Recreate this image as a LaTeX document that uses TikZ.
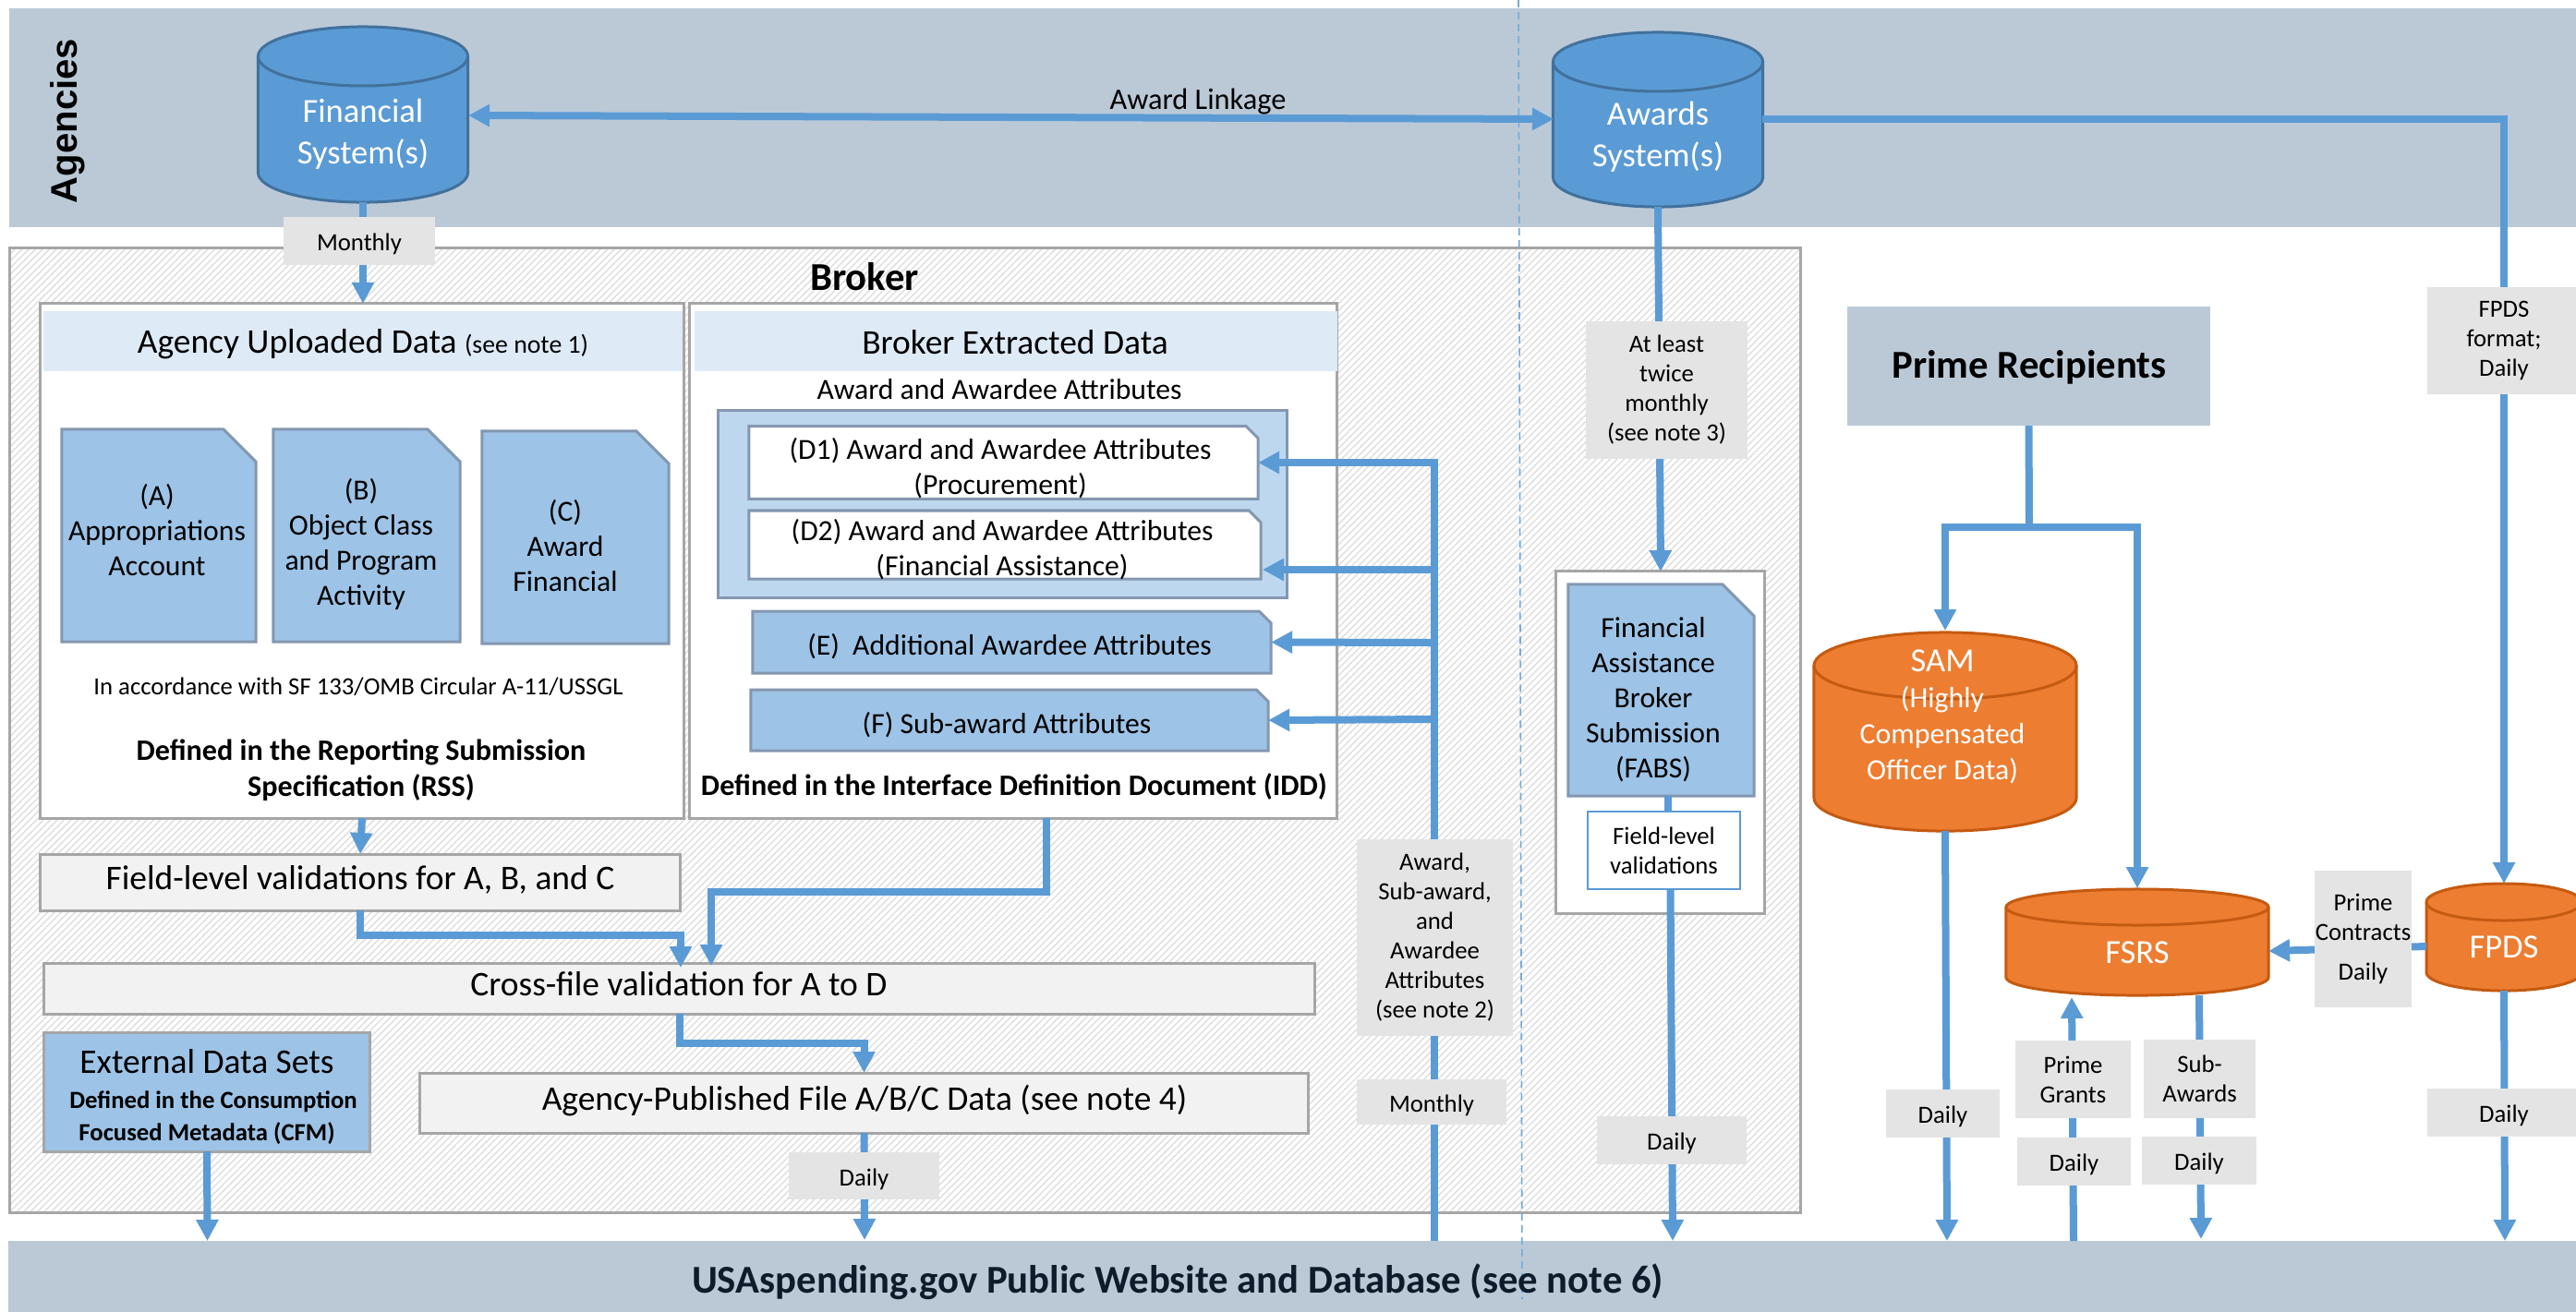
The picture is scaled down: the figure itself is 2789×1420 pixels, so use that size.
\documentclass[tikz,border=0pt]{standalone}
\usepackage{fontspec}
\setmainfont{Carlito}
\newfontfamily\agencyfont{Liberation Sans}
\usetikzlibrary{arrows.meta,patterns.meta}

\definecolor{bandgrey}{HTML}{BBC9D7}
\definecolor{flowblue}{HTML}{5B9BD5}
\definecolor{cylblue}{HTML}{5B9BD5}
\definecolor{cylblueedge}{HTML}{41719C}
\definecolor{cylorange}{HTML}{ED7D31}
\definecolor{cylorangeedge}{HTML}{C55A11}
\definecolor{docblue}{HTML}{9DC3E6}
\definecolor{docedge}{HTML}{8497B0}
\definecolor{headblue}{HTML}{DEEAF6}
\definecolor{groupblue}{HTML}{BDD7EE}
\definecolor{edgegrey}{HTML}{A6A6A6}
\definecolor{tagfill}{HTML}{E4E4E4}
\definecolor{valfill}{HTML}{F2F2F2}
\definecolor{titlenavy}{HTML}{0D1B2A}

\tikzset{
  plainbox/.style={rectangle,inner sep=0pt,outer sep=0pt,align=center},
  band/.style={plainbox,fill=bandgrey},
  whitebox/.style={plainbox,fill=white,draw=edgegrey,line width=0.03cm},
  headbox/.style={plainbox,fill=headblue},
  valbox/.style={plainbox,fill=valfill,draw=edgegrey,line width=0.03cm,font=\fontsize{10.65}{12.5}\selectfont},
  tagbox/.style={plainbox,fill=tagfill,font=\fontsize{7.6}{9.1}\selectfont,execute at begin node={\rule{0pt}{7.2pt}}},
  docpaper/.style={draw=docedge,line width=0.03cm,fill=docblue},
  slippaper/.style={draw=docedge,line width=0.03cm,fill=white},
  bluecyl/.style={draw=cylblueedge,line width=0.03cm,fill=cylblue},
  orangecyl/.style={draw=cylorangeedge,line width=0.03cm,fill=cylorange},
  txt/.style={inner sep=0pt,outer sep=0pt,align=center,font=\fontsize{9}{10.8}\selectfont},
  headtxt/.style={txt,font=\fontsize{10.65}{12.5}\selectfont},
  cyltxt/.style={txt,text=white,font=\fontsize{10.4}{12.8}\selectfont},
  boldtxt/.style={txt,font=\fontsize{9.15}{11.2}\selectfont\bfseries},
  titletxt/.style={txt,font=\fontsize{12.15}{14}\selectfont\bfseries},
  flowline/.style={draw=flowblue,line width=0.08cm},
  flow/.style={flowline,-{Triangle[length=0.23cm,width=0.23cm]}},
  flowboth/.style={flowline,{Triangle[length=0.23cm,width=0.23cm]}-{Triangle[length=0.23cm,width=0.23cm]}},
}

% cylinder over the named node #1: x radius #2 cm, y radius #3 cm, style #4
\newcommand{\dbdraw}[4]{
  \draw[#4] ([yshift=-#3cm]#1.north west) arc[start angle=180,end angle=0,x radius=#2cm,y radius=#3cm]
    -- ([yshift=#3cm]#1.south east) arc[start angle=0,end angle=-180,x radius=#2cm,y radius=#3cm] -- cycle;
  \draw[#4,fill=none] ([yshift=-#3cm]#1.north west) arc[start angle=180,end angle=360,x radius=#2cm,y radius=#3cm];
}
% sheet with a cut corner over the named node #1: cut #2 cm, style #3
\newcommand{\docdraw}[3]{
  \draw[#3] (#1.south west) -- (#1.north west) -- ([xshift=-#2cm]#1.north east)
    -- ([yshift=-#2cm]#1.north east) -- (#1.south east) -- cycle;
}

\begin{document}
\begin{tikzpicture}[x=0.01cm,y=-0.01cm]
\clip (0,0) rectangle (2789,1420);
\path[fill=white] (0,0) rectangle (2789,1420);

% bands and the broker area
\node[band,minimum width=27.78cm,minimum height=2.37cm] (agencyband) at (1400,127.5) {};
\node[band,minimum width=27.80cm,minimum height=0.88cm] (usaband) at (1400,1388) {};
\node[plainbox,draw=edgegrey,line width=0.03cm,minimum width=19.38cm,minimum height=10.44cm,
  pattern={Lines[angle=45,distance=1.5pt,line width=0.4pt]},pattern color=black!13] (brokerarea) at (980,791) {};
\draw[flowblue!85,line width=0.016cm,dash pattern=on 0.08cm off 0.05cm] (1644,0) -- (1648,1407);
\node[txt,rotate=90,font=\fontsize{11.4}{13}\selectfont\agencyfont\bfseries] (agencytxt) at (73,131) {Agencies};
\node[titletxt] (brokertxt) at (936,300) {Broker};
\node[titletxt,text=titlenavy] (usatxt) at (1275,1388) {USAspending.gov Public Website and Database (see note 6)};

% databases
\node[plainbox,minimum width=2.27cm,minimum height=1.90cm] (finsys) at (393,124) {};
\dbdraw{finsys}{1.135}{0.32}{bluecyl}
\node[cyltxt] (finsystxt) at (393,145) {Financial\\System(s)};
\node[plainbox,minimum width=2.27cm,minimum height=1.89cm] (awdsys) at (1795,129.5) {};
\dbdraw{awdsys}{1.135}{0.32}{bluecyl}
\node[cyltxt] (awdsystxt) at (1795,148) {Awards\\System(s)};
\node[plainbox,minimum width=2.84cm,minimum height=2.15cm] (sam) at (2106,792.5) {};
\dbdraw{sam}{1.42}{0.36}{orangecyl}
\node[cyltxt,font=\fontsize{9.05}{11.1}\selectfont] (samtxt) at (2103,776) {{\fontsize{10.4}{12}\selectfont SAM}\\(Highly\\Compensated\\Officer Data)};
\node[plainbox,minimum width=2.84cm,minimum height=1.15cm] (fsrs) at (2314,1020.5) {};
\dbdraw{fsrs}{1.42}{0.195}{orangecyl}
\node[cyltxt] (fsrstxt) at (2314,1032) {FSRS};
\node[plainbox,minimum width=1.68cm,minimum height=1.16cm] (fpds) at (2711,1015) {};
\dbdraw{fpds}{0.84}{0.20}{orangecyl}
\node[cyltxt] (fpdstxt) at (2711,1026) {FPDS};

% agency uploaded data
\node[whitebox,minimum width=6.96cm,minimum height=5.57cm] (agencybox) at (392,607.5) {};
\node[headbox,minimum width=6.92cm,minimum height=0.65cm] (agencyhead) at (393,369.5) {};
\node[headtxt] (agencyheadtxt) at (393,373) {Agency Uploaded Data {\fontsize{7.9}{9}\selectfont(see note 1)}};
\node[plainbox,minimum width=2.10cm,minimum height=2.30cm] (filea) at (172,580) {};
\docdraw{filea}{0.35}{docpaper}
\node[txt] (fileatxt) at (170,574) {(A)\\Appropriations\\Account};
\node[plainbox,minimum width=2.02cm,minimum height=2.30cm] (fileb) at (397,580) {};
\docdraw{fileb}{0.35}{docpaper}
\node[txt] (filebtxt) at (391,589) {(B)\\Object Class\\and Program\\Activity};
\node[plainbox,minimum width=2.02cm,minimum height=2.30cm] (filec) at (623,582) {};
\docdraw{filec}{0.35}{docpaper}
\node[txt] (filectxt) at (612,591) {(C)\\Award\\Financial};
\node[txt,font=\fontsize{7.6}{9}\selectfont] (sftxt) at (388,744) {In accordance with SF 133/OMB Circular A-11/USSGL};
\node[boldtxt] (rsstxt) at (391,834) {Defined in the Reporting Submission\\Specification (RSS)};

% broker extracted data
\node[whitebox,minimum width=7.00cm,minimum height=5.57cm] (brokerbox) at (1097,607.5) {};
\node[headbox,minimum width=6.96cm,minimum height=0.65cm] (brokerhead) at (1100,369.5) {};
\node[headtxt] (brokerheadtxt) at (1099,371) {Broker Extracted Data};
\node[txt] (attrtxt) at (1082,422) {Award and Awardee Attributes};
\node[plainbox,fill=groupblue,draw=docedge,line width=0.03cm,minimum width=6.15cm,minimum height=2.02cm] (dgroup) at (1085.5,546) {};
\node[plainbox,minimum width=5.51cm,minimum height=0.785cm] (dfileone) at (1086.5,501) {};
\docdraw{dfileone}{0.13}{slippaper}
\node[txt] (dfileonetxt) at (1083,507) {(D1) Award and Awardee Attributes\\(Procurement)};
\node[plainbox,minimum width=5.54cm,minimum height=0.74cm] (dfiletwo) at (1088,590) {};
\docdraw{dfiletwo}{0.13}{slippaper}
\node[txt] (dfiletwotxt) at (1085,595) {(D2) Award and Awardee Attributes\\(Financial Assistance)};
\node[plainbox,minimum width=5.61cm,minimum height=0.67cm] (efile) at (1095.5,695.5) {};
\docdraw{efile}{0.13}{docpaper}
\node[txt] (efiletxt) at (1093,700) {(E)\ \ Additional Awardee Attributes};
\node[plainbox,minimum width=5.60cm,minimum height=0.66cm] (ffile) at (1093,780) {};
\docdraw{ffile}{0.13}{docpaper}
\node[txt] (ffiletxt) at (1090,785) {(F) Sub-award Attributes};
\node[boldtxt] (iddtxt) at (1098,852) {Defined in the Interface Definition Document (IDD)};

% validations and published data
\node[valbox,minimum width=6.92cm,minimum height=0.61cm] (fieldval) at (390,955.5) {};
\node[headtxt] (fieldvaltxt) at (390,953) {Field-level validations for A, B, and C};
\node[valbox,minimum width=13.75cm,minimum height=0.55cm] (crossval) at (735.5,1070.5) {};
\node[headtxt] (crossvaltxt) at (735,1066) {Cross-file validation for A to D};
\node[valbox,minimum width=9.61cm,minimum height=0.65cm] (published) at (935.5,1194.5) {};
\node[headtxt] (publishedtxt) at (936,1191.5) {Agency-Published File A/B/C Data (see note 4)};
\node[plainbox,fill=docblue,draw=edgegrey,line width=0.03cm,minimum width=3.52cm,minimum height=1.28cm] (external) at (224,1183) {};
\node[headtxt,font=\fontsize{10.65}{11}\selectfont] (externaltxt) at (224,1188) {External Data Sets\\{\fontsize{7.6}{9.1}\selectfont\bfseries\hspace*{4pt}Defined in the Consumption}\\[-1pt]{\fontsize{7.6}{9.1}\selectfont\bfseries Focused Metadata (CFM)}};

% financial assistance submission
\node[whitebox,minimum width=2.25cm,minimum height=3.70cm] (fabsbox) at (1797.5,804) {};
\node[plainbox,minimum width=2.01cm,minimum height=2.29cm] (fabsfile) at (1798.5,747.5) {};
\docdraw{fabsfile}{0.34}{docpaper}
\node[txt] (fabsfiletxt) at (1790,758) {Financial\\Assistance\\Broker\\Submission\\(FABS)};
\node[plainbox,fill=white,draw=flowblue,line width=0.02cm,minimum width=1.65cm,minimum height=0.84cm,font=\fontsize{7.6}{9.1}\selectfont] (fabsval) at (1801.5,921) {Field-level\\validations};

% prime recipients
\node[band,minimum width=3.93cm,minimum height=1.29cm] (primerec) at (2196.5,396.5) {};
\node[titletxt] (primerectxt) at (2197,398) {Prime Recipients};

% connector ends that do not sit on an anchor
\coordinate (finright) at (507,125);
\coordinate (awdleft) at (1682,129);
\coordinate (awdright) at (1908,129);
\coordinate (fpdsturn) at (2711,129);
\coordinate (fabstop) at (1798,619);
\coordinate (fabslink) at (1806,879);
\coordinate (fabslinkup) at (1806,862);
\coordinate (valout) at (1808.5,963);
\coordinate (valtip) at (1811,1344);
\coordinate (fieldturn) at (737,1013);
\coordinate (crossinA) at (737,1048);
\coordinate (brokerout) at (1133,886);
\coordinate (brokerturn) at (1133,966);
\coordinate (crossinB) at (770,1046);
\coordinate (crossout) at (736,1098);
\coordinate (crossturn) at (736,1130);
\coordinate (externaltip) at (224.5,1344);
\coordinate (publishedtip) at (936,1343);
\coordinate (trunktop) at (1553,501);
\coordinate (trunkbase) at (1553,1344);
\coordinate (twoout) at (1553,617);
\coordinate (twotip) at (1367,617);
\coordinate (eout) at (1553,696);
\coordinate (fout) at (1553,779);
\coordinate (stemturn) at (2197,571);
\coordinate (samtop) at (2106,683);
\coordinate (fsrstop) at (2314,962);
\coordinate (samtip) at (2108,1344);
\coordinate (grantsbase) at (2245,1344);
\coordinate (grantstip) at (2243,1080);
\coordinate (subout) at (2381,1078);
\coordinate (subtip) at (2383,1342);
\coordinate (fpdsleft) at (2627,1025);
\coordinate (fsrsright) at (2456,1030);
\coordinate (fpdstip) at (2712,1344);

% connectors
\draw[flowboth] (finright) -- (awdleft);
\draw[flow] (finsys.south) -- (finsys.south |- agencybox.north);
\draw[flow] (awdright) -- (fpdsturn) -- (fpds.north);
\draw[flow] (awdsys.south) -- (fabstop);
\draw[flowline] (fabslinkup) -- (fabslink);
\draw[flow] (valout) -- (valtip);
\draw[flow] (agencybox.south) -- (fieldval.north);
\draw[flow] (fieldval.south) -- (fieldval.south |- fieldturn) -- (fieldturn) -- (crossinA);
\draw[flow] (brokerout) -- (brokerturn) -- (crossinB |- brokerturn) -- (crossinB);
\draw[flow] (crossout) -- (crossturn) -- (published.north |- crossturn) -- (published.north);
\draw[flow] (published.south) -- (publishedtip);
\draw[flow] (external.south) -- (externaltip);
\draw[flow] (trunkbase) -- (trunktop) -- (dfileone.east);
\draw[flow] (twoout) -- (twotip);
\draw[flow] (eout) -- (efile.east);
\draw[flow] (fout) -- (ffile.east);
\draw[flowline] (primerec.south) -- (stemturn);
\draw[flow] (stemturn) -- (samtop |- stemturn) -- (samtop);
\draw[flow] (stemturn) -- (fsrstop |- stemturn) -- (fsrstop);
\draw[flow] (sam.south) -- (samtip);
\draw[flow] (grantsbase) -- (grantstip);
\draw[flow] (subout) -- (subtip);
\draw[flow] (fpdsleft) -- (fsrsright);
\draw[flow] (fpds.south) -- (fpdstip);
\node[txt,font=\fontsize{9.2}{11}\selectfont] (linkagetxt) at (1297,110) {Award Linkage};

% timing tags
\node[tagbox,minimum width=1.64cm,minimum height=0.52cm] (monthlyone) at (389,261) {Monthly};
\node[tagbox,minimum width=1.75cm,minimum height=1.49cm] (twicetag) at (1804.5,422.5) {At least\\twice\\monthly\\(see note 3)};
\node[tagbox,minimum width=1.66cm,minimum height=1.16cm] (fpdstag) at (2711,369) {FPDS\\format;\\Daily};
\node[tagbox,minimum width=1.69cm,minimum height=2.13cm] (awardtag) at (1553.5,1015.5) {Award,\\Sub-award,\\and\\Awardee\\Attributes\\(see note 2)};
\node[tagbox,minimum width=1.62cm,minimum height=0.49cm] (monthlytwo) at (1550,1193.5) {Monthly};
\node[tagbox,minimum width=1.63cm,minimum height=0.51cm] (dailypub) at (935.5,1273.5) {Daily};
\node[tagbox,minimum width=1.62cm,minimum height=0.52cm] (dailyfabs) at (1810,1235) {Daily};
\node[tagbox,minimum width=1.23cm,minimum height=0.52cm] (dailysam) at (2103.5,1206) {Daily};
\node[tagbox,minimum width=1.25cm,minimum height=0.84cm] (grantstag) at (2244.5,1169) {Prime\\Grants};
\node[tagbox,minimum width=1.23cm,minimum height=0.52cm] (dailygrants) at (2245.5,1258) {Daily};
\node[tagbox,minimum width=1.21cm,minimum height=0.85cm] (subtag) at (2381.5,1168.5) {Sub-\\Awards};
\node[tagbox,minimum width=1.24cm,minimum height=0.52cm] (dailysub) at (2381,1257) {Daily};
\node[tagbox,minimum width=1.05cm,minimum height=1.48cm] (contractstag) at (2558.5,1017) {Prime\\Contracts\\[3pt]Daily};
\node[tagbox,minimum width=1.66cm,minimum height=0.52cm] (dailyfpds) at (2711,1205) {Daily};
\end{tikzpicture}
\end{document}
